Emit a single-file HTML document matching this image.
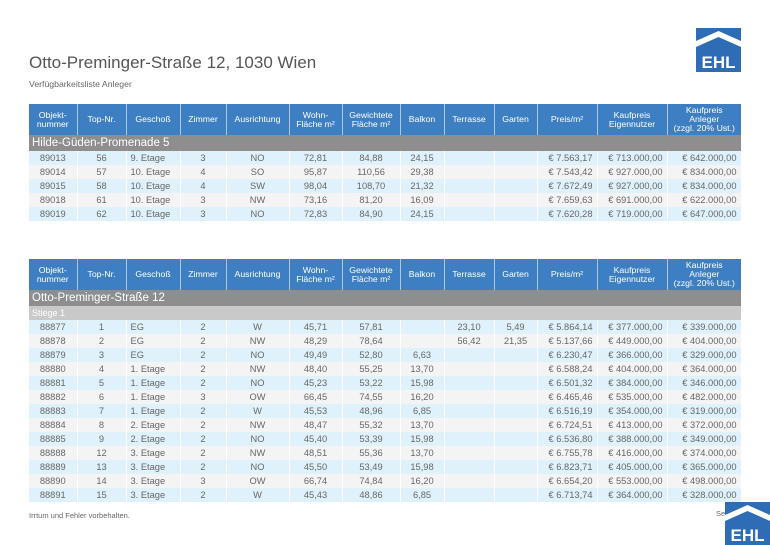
<!DOCTYPE html>
<html><head><meta charset="utf-8"><style>
body{margin:0;width:770px;height:545px;background:#fff;position:relative;overflow:hidden;font-family:"Liberation Sans",sans-serif;color:#666}
.t{position:absolute;left:29px;border-collapse:collapse;table-layout:fixed;font-size:9.3px}
.t td{padding:0;text-align:center;white-space:nowrap;overflow:hidden;border:none}
.t tr.h td{background:#3d7fc2;color:#fff;height:31px;line-height:9px;border-right:1px solid #a9c7e6;font-size:8.7px}
.t tr.h td:last-child{border-right:none}
.t tr.s td{background:#8e8e8e;color:#fff;font-size:11.5px;text-align:left;padding-left:3px;height:16px}
.t tr.g td{background:#c9c9c9;color:#fff;font-size:9px;text-align:left;padding-left:3px;height:14px}
.t tr.r td{height:14px;border-right:1px solid #fff}
.t tr.r:nth-child(odd) td{background:#dff2fb}
.t tr.r:nth-child(even) td{background:#f4f4f4}
.t td.l{text-align:left;padding-left:4px}
.t td.rr{text-align:right;padding-right:4px}
.logo{position:absolute;background:#2e6db5}
</style></head><body>
<div style="position:absolute;left:29px;top:53px;font-size:17px;color:#555">Otto-Preminger-Straße 12, 1030 Wien</div>
<div style="position:absolute;left:29px;top:79px;font-size:8.7px;color:#666">Verfügbarkeitsliste Anleger</div>
<svg class="logo" style="left:696px;top:28px" width="45" height="44" viewBox="0 0 45 44"><rect width="45" height="44" fill="#2e6db5"/><polygon points="0,13 22.5,3 45,13 45,19 22.5,9 0,19" fill="#fff"/><text x="22.5" y="40" font-family="Liberation Sans" font-weight="bold" font-size="17" fill="#fff" text-anchor="middle">EHL</text></svg>

<table class="t" style="top:104px">
<colgroup><col style="width:48px"><col style="width:49px"><col style="width:54px"><col style="width:46px"><col style="width:63px"><col style="width:53px"><col style="width:58px"><col style="width:44px"><col style="width:50px"><col style="width:43px"><col style="width:60px"><col style="width:70px"><col style="width:74px"></colgroup>
<tr class="h"><td>Objekt-<br>nummer</td><td>Top-Nr.</td><td>Geschoß</td><td>Zimmer</td><td>Ausrichtung</td><td>Wohn-<br>Fläche m²</td><td>Gewichtete<br>Fläche m²</td><td>Balkon</td><td>Terrasse</td><td>Garten</td><td>Preis/m²</td><td>Kaufpreis<br>Eigennutzer</td><td>Kaufpreis<br>Anleger<br>(zzgl. 20% Ust.)</td></tr>
<tr class="s"><td colspan="13">Hilde-Güden-Promenade 5</td></tr>
<tbody>
<tr class="r"><td>89013</td><td>56</td><td class="l">9. Etage</td><td>3</td><td>NO</td><td>72,81</td><td>84,88</td><td>24,15</td><td></td><td></td><td class="rr">€ 7.563,17</td><td class="rr">€ 713.000,00</td><td class="rr">€ 642.000,00</td></tr>
<tr class="r"><td>89014</td><td>57</td><td class="l">10. Etage</td><td>4</td><td>SO</td><td>95,87</td><td>110,56</td><td>29,38</td><td></td><td></td><td class="rr">€ 7.543,42</td><td class="rr">€ 927.000,00</td><td class="rr">€ 834.000,00</td></tr>
<tr class="r"><td>89015</td><td>58</td><td class="l">10. Etage</td><td>4</td><td>SW</td><td>98,04</td><td>108,70</td><td>21,32</td><td></td><td></td><td class="rr">€ 7.672,49</td><td class="rr">€ 927.000,00</td><td class="rr">€ 834.000,00</td></tr>
<tr class="r"><td>89018</td><td>61</td><td class="l">10. Etage</td><td>3</td><td>NW</td><td>73,16</td><td>81,20</td><td>16,09</td><td></td><td></td><td class="rr">€ 7.659,63</td><td class="rr">€ 691.000,00</td><td class="rr">€ 622.000,00</td></tr>
<tr class="r"><td>89019</td><td>62</td><td class="l">10. Etage</td><td>3</td><td>NO</td><td>72,83</td><td>84,90</td><td>24,15</td><td></td><td></td><td class="rr">€ 7.620,28</td><td class="rr">€ 719.000,00</td><td class="rr">€ 647.000,00</td></tr>
</tbody></table>

<table class="t" style="top:259px">
<colgroup><col style="width:48px"><col style="width:49px"><col style="width:54px"><col style="width:46px"><col style="width:63px"><col style="width:53px"><col style="width:58px"><col style="width:44px"><col style="width:50px"><col style="width:43px"><col style="width:60px"><col style="width:70px"><col style="width:74px"></colgroup>
<tr class="h"><td>Objekt-<br>nummer</td><td>Top-Nr.</td><td>Geschoß</td><td>Zimmer</td><td>Ausrichtung</td><td>Wohn-<br>Fläche m²</td><td>Gewichtete<br>Fläche m²</td><td>Balkon</td><td>Terrasse</td><td>Garten</td><td>Preis/m²</td><td>Kaufpreis<br>Eigennutzer</td><td>Kaufpreis<br>Anleger<br>(zzgl. 20% Ust.)</td></tr>
<tr class="s"><td colspan="13">Otto-Preminger-Straße 12</td></tr>
<tr class="g"><td colspan="13">Stiege 1</td></tr>
<tbody>
<tr class="r"><td>88877</td><td>1</td><td class="l">EG</td><td>2</td><td>W</td><td>45,71</td><td>57,81</td><td></td><td>23,10</td><td>5,49</td><td class="rr">€ 5.864,14</td><td class="rr">€ 377.000,00</td><td class="rr">€ 339.000,00</td></tr>
<tr class="r"><td>88878</td><td>2</td><td class="l">EG</td><td>2</td><td>NW</td><td>48,29</td><td>78,64</td><td></td><td>56,42</td><td>21,35</td><td class="rr">€ 5.137,66</td><td class="rr">€ 449.000,00</td><td class="rr">€ 404.000,00</td></tr>
<tr class="r"><td>88879</td><td>3</td><td class="l">EG</td><td>2</td><td>NO</td><td>49,49</td><td>52,80</td><td>6,63</td><td></td><td></td><td class="rr">€ 6.230,47</td><td class="rr">€ 366.000,00</td><td class="rr">€ 329.000,00</td></tr>
<tr class="r"><td>88880</td><td>4</td><td class="l">1. Etage</td><td>2</td><td>NW</td><td>48,40</td><td>55,25</td><td>13,70</td><td></td><td></td><td class="rr">€ 6.588,24</td><td class="rr">€ 404.000,00</td><td class="rr">€ 364.000,00</td></tr>
<tr class="r"><td>88881</td><td>5</td><td class="l">1. Etage</td><td>2</td><td>NO</td><td>45,23</td><td>53,22</td><td>15,98</td><td></td><td></td><td class="rr">€ 6.501,32</td><td class="rr">€ 384.000,00</td><td class="rr">€ 346.000,00</td></tr>
<tr class="r"><td>88882</td><td>6</td><td class="l">1. Etage</td><td>3</td><td>OW</td><td>66,45</td><td>74,55</td><td>16,20</td><td></td><td></td><td class="rr">€ 6.465,46</td><td class="rr">€ 535.000,00</td><td class="rr">€ 482.000,00</td></tr>
<tr class="r"><td>88883</td><td>7</td><td class="l">1. Etage</td><td>2</td><td>W</td><td>45,53</td><td>48,96</td><td>6,85</td><td></td><td></td><td class="rr">€ 6.516,19</td><td class="rr">€ 354.000,00</td><td class="rr">€ 319.000,00</td></tr>
<tr class="r"><td>88884</td><td>8</td><td class="l">2. Etage</td><td>2</td><td>NW</td><td>48,47</td><td>55,32</td><td>13,70</td><td></td><td></td><td class="rr">€ 6.724,51</td><td class="rr">€ 413.000,00</td><td class="rr">€ 372.000,00</td></tr>
<tr class="r"><td>88885</td><td>9</td><td class="l">2. Etage</td><td>2</td><td>NO</td><td>45,40</td><td>53,39</td><td>15,98</td><td></td><td></td><td class="rr">€ 6.536,80</td><td class="rr">€ 388.000,00</td><td class="rr">€ 349.000,00</td></tr>
<tr class="r"><td>88888</td><td>12</td><td class="l">3. Etage</td><td>2</td><td>NW</td><td>48,51</td><td>55,36</td><td>13,70</td><td></td><td></td><td class="rr">€ 6.755,78</td><td class="rr">€ 416.000,00</td><td class="rr">€ 374.000,00</td></tr>
<tr class="r"><td>88889</td><td>13</td><td class="l">3. Etage</td><td>2</td><td>NO</td><td>45,50</td><td>53,49</td><td>15,98</td><td></td><td></td><td class="rr">€ 6.823,71</td><td class="rr">€ 405.000,00</td><td class="rr">€ 365.000,00</td></tr>
<tr class="r"><td>88890</td><td>14</td><td class="l">3. Etage</td><td>3</td><td>OW</td><td>66,74</td><td>74,84</td><td>16,20</td><td></td><td></td><td class="rr">€ 6.654,20</td><td class="rr">€ 553.000,00</td><td class="rr">€ 498.000,00</td></tr>
<tr class="r"><td>88891</td><td>15</td><td class="l">3. Etage</td><td>2</td><td>W</td><td>45,43</td><td>48,86</td><td>6,85</td><td></td><td></td><td class="rr">€ 6.713,74</td><td class="rr">€ 364.000,00</td><td class="rr">€ 328.000,00</td></tr>
</tbody></table>

<div style="position:absolute;left:29px;top:511px;font-size:7.5px;color:#666">Irrtum und Fehler vorbehalten.</div>
<div style="position:absolute;left:716px;top:509px;font-size:7.5px;color:#666">Sei</div>
<svg class="logo" style="left:725px;top:502px" width="45" height="43" viewBox="0 0 45 43"><rect width="45" height="43" fill="#2e6db5"/><polygon points="0,13 22.5,3 45,13 45,19 22.5,9 0,19" fill="#fff"/><text x="22.5" y="39" font-family="Liberation Sans" font-weight="bold" font-size="17" fill="#fff" text-anchor="middle">EHL</text></svg>
</body></html>
